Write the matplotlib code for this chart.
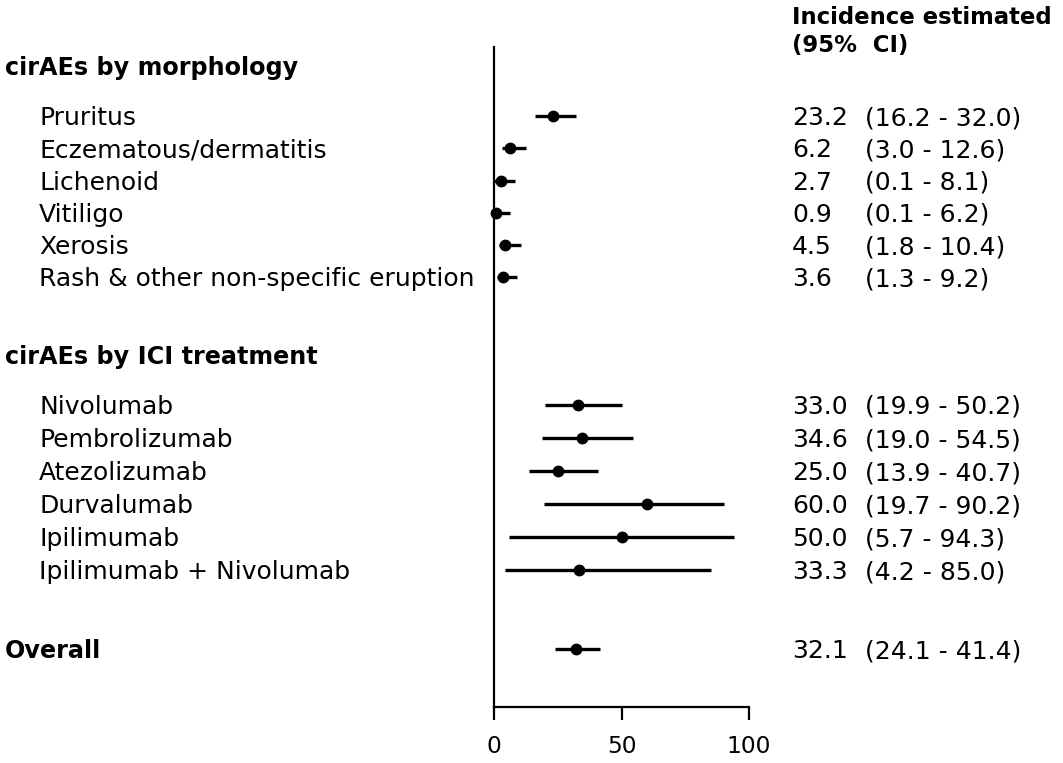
import matplotlib.pyplot as plt
from matplotlib import transforms

plt.rcParams['font.family'] = ['DejaVu Sans']

# valores
morfologia = ['Pruritus', 'Eczematous/dermatitis', 'Lichenoid', 'Vitiligo',
              'Xerosis', 'Rash & other non-specific eruption']
morf_est = [23.2, 6.2, 2.7, 0.9, 4.5, 3.6]
morf_lo = [16.2, 3.0, 0.1, 0.1, 1.8, 1.3]
morf_hi = [32.0, 12.6, 8.1, 6.2, 10.4, 9.2]

tratamiento = ['Nivolumab', 'Pembrolizumab', 'Atezolizumab', 'Durvalumab',
               'Ipilimumab', 'Ipilimumab + Nivolumab']
trat_est = [33.0, 34.6, 25.0, 60.0, 50.0, 33.3]
trat_lo = [19.9, 19.0, 13.9, 19.7, 5.7, 4.2]
trat_hi = [50.2, 54.5, 40.7, 90.2, 94.3, 85.0]

global_est = [32.1]
global_lo = [24.1]
global_hi = [41.4]

xticks = [0, 50, 100]

# posiciones de las filas (en unidades de fila)
y_cab1 = 0
y_morf = [1.55 + i * 0.995 for i in range(len(morfologia))]
y_cab2 = 8.92
y_trat = [10.46 + i * 1.02 for i in range(len(tratamiento))]
y_global = 18.0

fig = plt.figure(figsize=(10.63, 7.63), dpi=100)
ax = fig.add_axes([494 / 1063, 1 - 707 / 763, 255 / 1063, 660 / 763])
ax.set_xlim(0, 100)
ax.set_ylim(19.78, -0.586)

fs = 18.0      # texto normal
for ys, est, lo, hi in [(y_morf, morf_est, morf_lo, morf_hi),
                        (y_trat, trat_est, trat_lo, trat_hi),
                        ([y_global], global_est, global_lo, global_hi)]:
    ax.hlines(ys, lo, hi, colors='black', lw=2.4, clip_on=False)
    ax.plot(est, ys, 'o', color='black', ms=7.5, clip_on=False)

ax.spines['top'].set_visible(False)
ax.spines['right'].set_visible(False)
ax.spines['left'].set_linewidth(1.6)
ax.spines['bottom'].set_linewidth(1.6)
ax.set_yticks([])
ax.set_xticks(xticks)
ax.set_xticklabels([str(t) for t in xticks])
ax.tick_params(axis='x', direction='out', length=9.5, width=1.6, pad=11, labelsize=16.8)

# textos: x en figura, y en datos
tr = transforms.blended_transform_factory(fig.transFigure, ax.transData)

def texto(x_px, y, s, size=fs, bold=False):
    # desplazar la linea base para centrar las mayusculas en la fila
    t = transforms.offset_copy(tr, fig=fig, y=-0.36 * size, units='points')
    fig.text(x_px / 1063, y, s, transform=t, fontsize=size, va='baseline',
             ha='left', fontweight='bold' if bold else 'normal')

texto(5, y_cab1, 'cirAEs by morphology', 17.2, True)
texto(5, y_cab2, 'cirAEs by ICI treatment', 17.2, True)
texto(5, y_global, 'Overall', 17.2, True)

for nombres, ys, est, lo, hi in [(morfologia, y_morf, morf_est, morf_lo, morf_hi),
                                 (tratamiento, y_trat, trat_est, trat_lo, trat_hi)]:
    for n, y, e, l, h in zip(nombres, ys, est, lo, hi):
        texto(39, y, n)
        texto(792, y, f'{e:.1f}')
        texto(865, y, f'({l:.1f} - {h:.1f})')

texto(792, y_global, f'{global_est[0]:.1f}')
texto(865, y_global, f'({global_lo[0]:.1f} - {global_hi[0]:.1f})')

# cabecera de la columna derecha
texto(792, -1.54, 'Incidence estimated', 16.4, True)
texto(792, -0.68, '(95%  CI)', 16.4, True)

fig.savefig('out.png', dpi=100)
